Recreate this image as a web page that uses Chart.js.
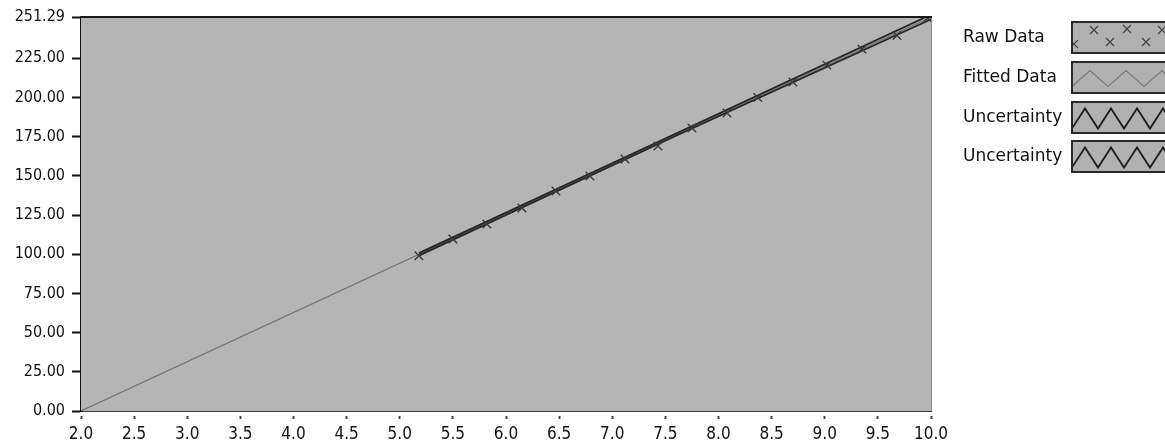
<!DOCTYPE html>
<html>
<head>
<meta charset="utf-8">
<script src="https://cdn.jsdelivr.net/npm/chart.js@4.4.1/dist/chart.umd.min.js"></script>
<style>
  html, body { margin: 0; padding: 0; background: #fff; }
  #wrap { width: 1165px; height: 442px; position: relative; }
</style>
</head>
<body>
<div id="wrap"><canvas id="chart" width="1165" height="442"></canvas></div>
<script>
// measured points
var rawX = [5.18, 5.50, 5.82, 6.15, 6.47, 6.79, 7.12, 7.43, 7.75, 8.08, 8.37, 8.70, 9.02, 9.35, 9.68, 9.97];
var rawY = [99.0, 109.7, 119.3, 129.5, 140.3, 149.9, 160.7, 169.0, 180.5, 190.0, 200.0, 209.8, 220.6, 230.8, 239.5, 250.6];

// linear fit
var fitX = [2.0, 10.0];
var fitY = [0.0, 251.29];

// uncertainty bounds
var uncX = [5.18, 7.59, 10.0];
var upperY = [100.7, 176.6, 252.8];
var lowerY = [99.1, 175.2, 249.8];

var seriesNames = ["Raw Data", "Fitted Data", "Uncertainty", "Uncertainty"];
var yTicks = [0, 25, 50, 75, 100, 125, 150, 175, 200, 225, 251.29];
var xTicks = [2.0, 2.5, 3.0, 3.5, 4.0, 4.5, 5.0, 5.5, 6.0, 6.5, 7.0, 7.5, 8.0, 8.5, 9.0, 9.5, 10.0];

function pts(xs, ys) {
  return xs.map(function(x, i){ return {x: x, y: ys[i]}; });
}

var FONT = "'DejaVu Sans Condensed', 'DejaVu Sans', sans-serif";
var LEGEND_FONT = "'DejaVu Sans', sans-serif";
var PLOT_BG = "#b5b5b5";

// plot background and frame
var frame = {
  id: "frame",
  beforeDatasetsDraw: function(chart){
    var a = chart.chartArea, c = chart.ctx;
    c.save();
    c.fillStyle = PLOT_BG;
    c.fillRect(a.left, a.top, a.right - a.left, a.bottom - a.top);
    c.restore();
  },
  afterDraw: function(chart){
    var a = chart.chartArea, c = chart.ctx;
    c.save();
    c.strokeStyle = "#8a8a8a";
    c.lineWidth = 1;
    c.beginPath();
    c.moveTo(a.right + 0.5, a.top);
    c.lineTo(a.right + 0.5, a.bottom);
    c.stroke();
    c.strokeStyle = "#1a1a1a";
    c.lineWidth = 2;
    c.beginPath();
    c.moveTo(a.left - 1, a.top);
    c.lineTo(a.right + 1, a.top);
    c.stroke();
    c.restore();
  }
};

// legend on the right with pattern swatches
var sideLegend = {
  id: "sideLegend",
  afterDraw: function(chart){
    var c = chart.ctx;
    var rowTop = [22, 62, 102, 141];
    var boxL = 1072, boxW = 100, boxH = 31;
    c.save();
    seriesNames.forEach(function(name, i){
      var t = rowTop[i];
      c.fillStyle = "#111";
      c.font = "17px " + LEGEND_FONT;
      c.textBaseline = "middle";
      c.textAlign = "left";
      c.fillText(name, 963, t + boxH / 2);

      c.fillStyle = "#b0b0b0";
      c.fillRect(boxL, t, boxW, boxH);
      c.strokeStyle = "#2a2a2a";
      c.lineWidth = 2;
      c.strokeRect(boxL, t, boxW, boxH);

      c.save();
      c.beginPath();
      c.rect(boxL + 1, t + 1, boxW - 2, boxH - 2);
      c.clip();
      if (i === 0) {
        c.strokeStyle = "#444";
        c.lineWidth = 1.2;
        var marks = [[1074, t + 22], [1094, t + 8], [1110, t + 20], [1127, t + 7], [1146, t + 20], [1162, t + 8]];
        marks.forEach(function(m){
          c.beginPath();
          c.moveTo(m[0] - 4, m[1] - 4); c.lineTo(m[0] + 4, m[1] + 4);
          c.moveTo(m[0] + 4, m[1] - 4); c.lineTo(m[0] - 4, m[1] + 4);
          c.stroke();
        });
      } else {
        var per = i === 1 ? 36 : 26;
        var amp = i === 1 ? 8 : 10;
        c.strokeStyle = i === 1 ? "#7a7a7a" : "#1e1e1e";
        c.lineWidth = i === 1 ? 1.2 : 1.8;
        c.beginPath();
        var mid = t + boxH / 2 + 1;
        c.moveTo(boxL, mid + amp);
        for (var x = boxL, k = 0; x < boxL + boxW + per; x += per / 2, k++) {
          c.lineTo(x + per / 2, k % 2 === 0 ? mid - amp : mid + amp);
        }
        c.stroke();
      }
      c.restore();
    });
    c.restore();
  }
};

var canvas = document.getElementById("chart").getContext("2d");
var chart = new Chart(canvas, {
  type: "scatter",
  data: {
    datasets: [
      {
        label: seriesNames[0],
        data: pts(rawX, rawY),
        showLine: false,
        pointStyle: "crossRot",
        pointRadius: 6,
        pointBorderWidth: 1.4,
        borderColor: "#3a3a3a",
        order: 0
      },
      {
        label: seriesNames[1],
        data: pts(fitX, fitY),
        showLine: true,
        borderColor: "#767676",
        borderWidth: 1.2,
        pointRadius: 0,
        order: 3
      },
      {
        label: seriesNames[2],
        data: pts(uncX, upperY),
        showLine: true,
        borderColor: "#262626",
        borderWidth: 1.8,
        pointRadius: 0,
        order: 1
      },
      {
        label: seriesNames[3],
        data: pts(uncX, lowerY),
        showLine: true,
        borderColor: "#262626",
        borderWidth: 1.8,
        pointRadius: 0,
        order: 2
      }
    ]
  },
  options: {
    responsive: false,
    animation: false,
    layout: { padding: { left: 0, right: 234, top: 17, bottom: 0 } },
    plugins: { legend: { display: false }, tooltip: { enabled: false } },
    scales: {
      x: {
        type: "linear",
        min: 2, max: 10,
        afterBuildTicks: function(s){ s.ticks = xTicks.map(function(v){ return {value: v}; }); },
        afterFit: function(s){ s.height = 31; },
        border: { color: "#3a3a3a", width: 2 },
        grid: { drawOnChartArea: false, tickLength: 8, tickColor: "#444", tickWidth: 2, tickBorderDash: [0, 4, 3] },
        ticks: {
          color: "#111",
          padding: 5,
          maxRotation: 0,
          autoSkip: false,
          font: { family: FONT, size: 17 },
          callback: function(v){ return Number(v).toFixed(1); }
        }
      },
      y: {
        type: "linear",
        min: 0, max: 251.29,
        afterBuildTicks: function(s){ s.ticks = yTicks.map(function(v){ return {value: v}; }); },
        afterFit: function(s){ s.width = 81; },
        border: { color: "#111", width: 3 },
        grid: { drawOnChartArea: false, tickLength: 12, tickColor: "#111", tickWidth: 2, tickBorderDash: [0, 3, 8] },
        ticks: {
          color: "#111",
          padding: 4,
          autoSkip: false,
          font: { family: FONT, size: 16 },
          callback: function(v){ return Number(v).toFixed(2); }
        }
      }
    }
  },
  plugins: [frame, sideLegend]
});
</script>
</body>
</html>
